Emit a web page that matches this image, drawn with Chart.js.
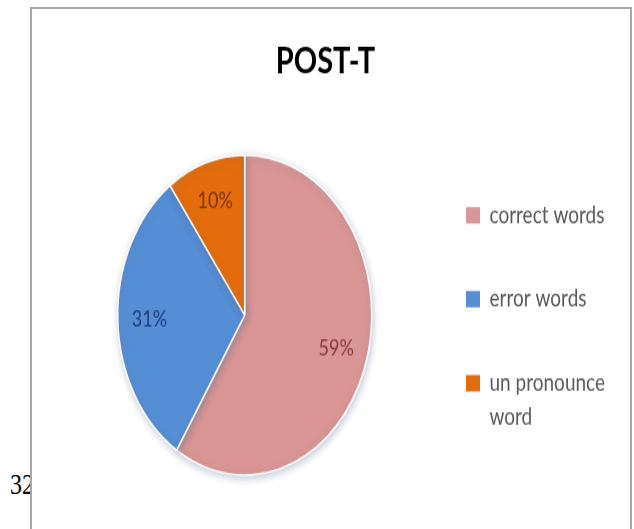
<!DOCTYPE html>
<html>
<head>
<meta charset="utf-8">
<title>POST-T</title>
<script src="https://cdn.jsdelivr.net/npm/chart.js@4.4.1/dist/chart.umd.min.js"></script>
<style>
  html, body { margin: 0; padding: 0; background: #fff; }
  body { width: 634px; height: 529px; overflow: hidden; position: relative; }
  #pageNum {
    position: absolute; left: 10px; top: 469px;
    font-family: "Liberation Serif", "Times New Roman", serif; font-size: 24px; line-height: 1;
    color: #000; transform: scaleY(1.26); transform-origin: 0 0;
  }
  #frame {
    position: absolute; left: 30px; top: 7px; width: 598px; height: 540px;
    border: 2px solid #a8a8a8; border-bottom: none; background: #fff;
  }
  /* the source picture is stretched vertically, so is the chart */
  #stretch { width: 598px; height: 413px; transform: scaleY(1.26); transform-origin: 0 0; }
</style>
</head>
<body>
<div id="pageNum">32</div>
<div id="frame">
  <div id="stretch"><canvas id="pieChart" width="598" height="413"></canvas></div>
</div>
<script>
// chart data
const chartTitle = "POST-T";
const categories = ["correct words", "error words", ["un pronounce", "word"]];
const percentValues = [59, 31, 10];
const sliceColors = ["#D99694", "#558ED5", "#E46C0A"];
const labelColors = ["#843C3B", "#1F3C78", "#7A3505"];

// soft shadow under the pie
const pieShadow = {
  id: "pieShadow",
  beforeDatasetsDraw(chart) {
    const ctx = chart.ctx;
    ctx.save();
    ctx.shadowColor = "rgba(90,110,150,0.35)";
    ctx.shadowBlur = 6;
    ctx.shadowOffsetX = 1;
    ctx.shadowOffsetY = 2;
  },
  afterDatasetsDraw(chart) {
    chart.ctx.restore();
  }
};

// percentage text inside each slice
const percentLabels = {
  id: "percentLabels",
  afterDatasetsDraw(chart) {
    const ctx = chart.ctx;
    const meta = chart.getDatasetMeta(0);
    ctx.save();
    ctx.font = "18px Lato";
    ctx.textAlign = "center";
    ctx.textBaseline = "middle";
    meta.data.forEach((arc, i) => {
      const p = arc.getProps(["x", "y", "startAngle", "endAngle", "outerRadius"], true);
      const mid = (p.startAngle + p.endAngle) / 2;
      const r = p.outerRadius * 0.75;
      ctx.fillStyle = labelColors[i];
      ctx.fillText(percentValues[i] + "%", p.x + Math.cos(mid) * r, p.y + Math.sin(mid) * r);
    });
    ctx.restore();
  }
};

new Chart(document.getElementById("pieChart"), {
  type: "pie",
  data: {
    labels: categories,
    datasets: [{
      data: percentValues,
      backgroundColor: sliceColors,
      borderColor: "#ffffff",
      borderWidth: 1.5,
      radius: 127,
      clip: false
    }]
  },
  options: {
    responsive: false,
    animation: false,
    events: [],
    layout: { padding: { left: 4, right: 15, top: 0, bottom: 59 } },
    plugins: {
      title: {
        display: true,
        text: chartTitle,
        color: "#000",
        font: { family: "Lato", size: 29, weight: "bold" },
        padding: { top: 24, bottom: 73 }
      },
      legend: {
        position: "right",
        align: "end",
        maxWidth: 161.6,
        labels: {
          color: "#595959",
          font: { family: "Lato", size: 19, lineHeight: 27 / 19 },
          boxWidth: 14,
          boxHeight: 13,
          padding: 12.6,
          generateLabels(chart) {
            // every entry takes two text lines, so the spacing matches the wrapped one
            return Chart.overrides.pie.plugins.legend.labels.generateLabels(chart)
              .map(item => ({
                ...item,
                text: Array.isArray(item.text) ? item.text : [item.text, ""],
                lineWidth: 0
              }));
          }
        }
      },
      tooltip: { enabled: false }
    }
  },
  plugins: [pieShadow, percentLabels]
});
</script>
</body>
</html>
